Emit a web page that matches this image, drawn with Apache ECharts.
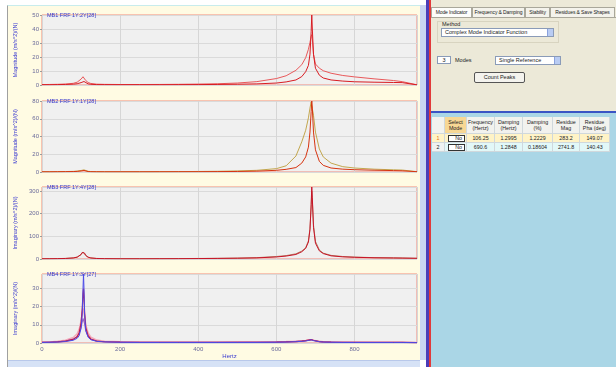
<!DOCTYPE html>
<html>
<head>
<meta charset="utf-8">
<script src="https://cdn.jsdelivr.net/npm/echarts@6/dist/echarts.min.js"></script>
<style>
  html, body { margin: 0; padding: 0; background: #ffffff; }
  body { width: 616px; height: 367px; position: relative; overflow: hidden;
         font-family: "Liberation Sans", Arial, sans-serif; }
  .abs { position: absolute; box-sizing: border-box; }
  #leftPanel { left: 7px; top: 5px; width: 413px; height: 362px; background: #fffbe3;
               border-left: 1px solid #a0a0a0; border-top: 1px solid #c8ecec; }
  #chart { left: 0; top: 0; width: 420px; height: 360px; }
  #vscroll { left: 420px; top: 5px; width: 6px; height: 355px; background: #c9d4f2; }
  #hscroll { left: 8px; top: 360px; width: 412px; height: 7px; background: #d6e2f6;
             border-top: 1px solid #b8c8ea; }
  #divA { left: 426px; top: 0; width: 3px; height: 367px; background: #4b3cb8; }
  #divB { left: 429px; top: 0; width: 2px; height: 367px; background: #e23a3a; }
  #rightTop { left: 431px; top: 0; width: 185px; height: 111px; background: #ece9d8; }
  #rightBot { left: 431px; top: 111px; width: 185px; height: 256px; background: #aad6e6;
              border-top: 2px solid #3a54c4; }
  .tab { top: 7px; height: 10px; font-size: 5px; line-height: 9px; color: #222; text-align: center;
         border: 1px solid #a9a79a; border-bottom: none; background: #f4f3ec; white-space: nowrap;
         letter-spacing: -0.1px; overflow: hidden; }
  .lbl { font-size: 5.5px; color: #222; white-space: nowrap; }
  .box { background: #fff; border: 1px solid #8a9bb8; font-size: 5.5px; line-height: 7px; color: #222;
         padding-left: 3px; white-space: nowrap; }
  .drop { background: #b9ccf3; border-left: 1px solid #8aa2dd; }
  .cell { font-size: 5.3px; color: #222; text-align: center; white-space: nowrap;
          border-right: 1px solid #d0d8dc; border-bottom: 1px solid #d0d8dc; }
</style>
</head>
<body>
<div id="leftPanel" class="abs"></div>
<div id="chart" class="abs"></div>
<div id="vscroll" class="abs"></div>
<div id="hscroll" class="abs"></div>
<div id="divA" class="abs"></div>
<div id="divB" class="abs"></div>
<div id="rightTop" class="abs"></div>
<div id="rightBot" class="abs"></div>
<div id="ui"></div>
<script>
// Frequency samples (Hz) shared by every trace
const hz = [0, 20, 40, 60, 80, 90, 95, 100, 103, 105, 106.25, 107.5, 109, 112, 118, 125, 140, 160,
  200, 250, 300, 350, 400, 450, 500, 550, 600, 625, 650, 665, 675, 682, 686, 689, 690.6, 692,
  695, 700, 710, 720, 740, 770, 800, 850, 900, 922, 925, 960];

// MB1 magnitude traces
const mb1Sharp = [0.2, 0.2, 0.3, 0.4, 0.6, 0.9, 1.2, 1.7, 2.2, 2.6, 2.8, 2.5, 2.0, 1.3, 0.8, 0.5, 0.3, 0.25,
  0.2, 0.2, 0.2, 0.25, 0.3, 0.4, 0.55, 0.8, 1.4, 2.2, 3.6, 6, 9.5, 14, 22, 38, 50, 40,
  22, 12, 7, 5, 3.6, 2.8, 2.3, 2.0, 1.8, 1.7, 1.6, 0.1];
const mb1Broad = [0.3, 0.4, 0.5, 0.7, 1.2, 2.0, 2.8, 4.2, 5.3, 5.9, 6.0, 5.6, 4.7, 3.2, 1.8, 1.1, 0.6, 0.45,
  0.35, 0.35, 0.4, 0.5, 0.65, 0.9, 1.4, 2.4, 4.6, 6.6, 10.5, 14.5, 19.5, 25.5, 30.5, 34.5, 36, 33,
  22, 15, 12, 10.2, 8.4, 6.8, 5.8, 4.4, 3.2, 2.4, 1.8, 0.15];

// MB2 magnitude traces
const mb2Sharp = [0.2, 0.2, 0.3, 0.4, 0.5, 0.7, 0.9, 1.2, 1.6, 1.9, 2.0, 1.8, 1.4, 0.9, 0.5, 0.35, 0.25, 0.2,
  0.2, 0.2, 0.25, 0.3, 0.35, 0.45, 0.6, 1.0, 1.9, 3, 5, 10, 17, 28, 45, 68, 80, 72,
  45, 25, 12, 7.5, 4.5, 3.2, 2.6, 2.0, 1.6, 1.4, 1.3, 0.3];
const mb2Broad = [0.3, 0.3, 0.4, 0.5, 0.7, 1.0, 1.3, 1.7, 2.2, 2.5, 2.6, 2.4, 1.9, 1.3, 0.8, 0.5, 0.35, 0.3,
  0.3, 0.3, 0.35, 0.45, 0.6, 0.8, 1.2, 1.9, 3.8, 7, 18, 34, 47, 61, 72, 79, 80, 78,
  64, 45, 26, 17, 10, 6, 4.5, 3.2, 2.5, 2.2, 2.0, 0.4];

// MB3 imaginary-part traces
const mb3Main = [1, 1.2, 1.6, 2.3, 4.5, 8, 12, 20, 29, 35, 37, 33, 26, 16, 8, 4.5, 2.2, 1.5,
  1, 1, 1.2, 1.5, 2, 2.6, 3.5, 5, 9, 13, 20, 32, 47, 75, 130, 240, 318, 270,
  140, 70, 36, 24, 14, 9.5, 7.5, 5.5, 4.5, 4, 3.8, 3];
const mb3Alt = [1.2, 1.4, 1.8, 2.6, 5, 8.5, 12.5, 19, 26, 31, 33, 30, 24, 15, 8, 4.8, 2.5, 1.7,
  1.2, 1.2, 1.4, 1.8, 2.4, 3, 4, 6, 11, 15, 23, 35, 50, 80, 135, 230, 300, 260,
  150, 78, 40, 26, 16, 11, 8.5, 6, 5, 4.5, 4.2, 3.2];

// MB4 imaginary-part traces
const mb4Blue = [0.3, 0.4, 0.5, 0.8, 1.5, 2.6, 4, 8, 16, 30, 38, 30, 16, 7, 3.2, 1.8, 0.9, 0.6,
  0.4, 0.3, 0.3, 0.3, 0.3, 0.3, 0.3, 0.3, 0.4, 0.5, 0.7, 0.9, 1.1, 1.4, 1.6, 1.8, 1.8, 1.6,
  1.3, 1, 0.7, 0.5, 0.4, 0.3, 0.3, 0.3, 0.3, 0.3, 0.3, 0.2];
const mb4Crimson = [0.3, 0.4, 0.6, 1, 2, 3.5, 5.5, 11, 19, 27, 30, 26, 17, 8.5, 4, 2.2, 1.1, 0.7,
  0.5, 0.4, 0.35, 0.35, 0.35, 0.35, 0.4, 0.4, 0.5, 0.6, 0.8, 1, 1.3, 1.6, 1.8, 1.9, 1.9, 1.8,
  1.5, 1.1, 0.8, 0.6, 0.5, 0.4, 0.35, 0.3, 0.3, 0.3, 0.3, 0.2];
const mb4Pink = [0.5, 0.6, 0.9, 1.5, 3, 5, 7.5, 12, 16, 19, 20, 18.5, 15, 10, 5.5, 3.2, 1.6, 1,
  0.7, 0.5, 0.45, 0.45, 0.45, 0.45, 0.5, 0.55, 0.65, 0.8, 1, 1.2, 1.4, 1.6, 1.7, 1.8, 1.8, 1.7,
  1.5, 1.2, 0.9, 0.7, 0.55, 0.45, 0.4, 0.35, 0.35, 0.35, 0.35, 0.25];
const mb4Purple = [0.4, 0.5, 0.7, 1.1, 2.2, 3.6, 5.2, 8.5, 11.5, 13.5, 14, 13, 10.5, 6.5, 3.5, 2, 1, 0.7,
  0.5, 0.4, 0.4, 0.4, 0.4, 0.4, 0.45, 0.5, 0.6, 0.7, 0.9, 1.1, 1.3, 1.5, 1.6, 1.7, 1.7, 1.6,
  1.4, 1.1, 0.8, 0.6, 0.5, 0.4, 0.35, 0.3, 0.3, 0.3, 0.3, 0.2];

// Panel titles, axis names and ranges
const plotTitles = ['MB1 FRF 1Y:2Y[28]', 'MB2 FRF 1Y:1Y[28]', 'MB3 FRF 1Y:4Y[28]', 'MB4 FRF 1Y:3Y[27]'];
const yNames = ['Magnitude (m/s^2)/(N)', 'Magnitude (m/s^2)/(N)', 'Imaginary (m/s^2)/(N)', 'Imaginary (m/s^2)/(N)'];
const yMax = [50, 80, 318, 38];
const yStep = [10, 20, 100, 10];
const xMax = 960;
const xStep = 200;

// Mode table
const tableHead = ['', 'Select\nMode', 'Frequency\n(Hertz)', 'Damping\n(Hertz)', 'Damping\n(%)', 'Residue\nMag', 'Residue\nPha (deg)'];
const tableRows = [
  ['1', 'No', '106.25', '1.2995', '1.2229', '283.2', '149.07'],
  ['2', 'No', '690.6', '1.2848', '0.18604', '2741.8', '140.43']
];

const gridTops = [15, 101, 187, 274];
const gridHeights = [70, 71, 72, 71];

const grids = [], xAxes = [], yAxes = [], titles = [], series = [];
for (let i = 0; i < 4; i++) {
  grids.push({ left: 42, top: gridTops[i], width: 375, height: gridHeights[i], show: true,
    backgroundColor: '#f0f0f0', borderColor: '#f08a7c', borderWidth: 1 });
  const last = i === 3;
  xAxes.push({ gridIndex: i, type: 'value', min: 0, max: xMax, interval: xStep,
    axisLine: { show: false }, axisTick: { show: false },
    axisLabel: { show: last, fontSize: 6, color: '#6a6a9a', margin: 3, showMaxLabel: false,
      fontFamily: 'Liberation Sans' },
    splitLine: { show: true, lineStyle: { color: '#d6d6d6', width: 1 } },
    name: last ? 'Hertz' : '', nameLocation: 'middle', nameGap: 10,
    nameTextStyle: { fontSize: 6, color: '#3a3ad0', fontFamily: 'Liberation Sans' } });
  yAxes.push({ gridIndex: i, type: 'value', min: 0, max: yMax[i], interval: yStep[i],
    axisLine: { show: false },
    axisTick: { show: true, length: 2, lineStyle: { color: '#9a9a9a' } },
    axisLabel: { fontSize: 6, color: '#6a6a9a', margin: 3, showMaxLabel: (i < 2),
      fontFamily: 'Liberation Sans' },
    splitLine: { show: true, lineStyle: { color: '#dadada', width: 1 } },
    name: yNames[i], nameLocation: 'middle', nameRotate: 90, nameGap: 24,
    nameTextStyle: { fontSize: 5.5, color: '#3a3ad0', fontFamily: 'Liberation Sans' } });
  titles.push({ text: plotTitles[i], left: 42, top: gridTops[i] - 8,
    textStyle: { fontSize: 5.5, fontWeight: 'normal', color: '#3434cc', fontFamily: 'Liberation Sans' } });
}

function trace(idx, vals, color, width) {
  series.push({ type: 'line', xAxisIndex: idx, yAxisIndex: idx, showSymbol: false, symbol: 'none',
    clip: true, animation: false, silent: true,
    lineStyle: { color: color, width: width || 1 },
    data: hz.map((f, k) => [f, vals[k]]) });
}

trace(0, mb1Broad, '#e8585a');
trace(0, mb1Sharp, '#d81c22');
trace(1, mb2Broad, '#c2a64e');
trace(1, mb2Sharp, '#d63410');
trace(2, mb3Alt, '#b58468');
trace(2, mb3Main, '#c81428');
trace(3, mb4Pink, '#f3a8b8', 1.5);
trace(3, mb4Purple, '#9a5cc0');
trace(3, mb4Crimson, '#c21a4a', 1.2);
trace(3, mb4Blue, '#4a4ae8');

const chart = echarts.init(document.getElementById('chart'), null, { renderer: 'canvas' });
chart.setOption({
  animation: false,
  title: titles,
  grid: grids,
  xAxis: xAxes,
  yAxis: yAxes,
  series: series
});

// Control panel and mode table
const ui = document.getElementById('ui');
function el(cls, css, text) {
  const d = document.createElement('div');
  d.className = 'abs ' + cls;
  d.style.cssText = css;
  if (text !== undefined) d.textContent = text;
  ui.appendChild(d);
  return d;
}
const tabs = [['Mode Indicator', 431, 41, '#fdfdfb'], ['Frequency & Damping', 472, 53, '#f4f3ec'],
  ['Stability', 525, 25, '#f4f3ec'], ['Residues & Save Shapes', 550, 65, '#f4f3ec']];
tabs.forEach(t => el('tab', `left:${t[1]}px;width:${t[2]}px;background:${t[3]};`, t[0]));
el('', 'left:431px;top:17px;width:185px;height:1px;background:#a9a79a;');
el('', 'left:437px;top:21px;width:122px;height:22px;border:1px solid #d8d4c0;');
el('lbl', 'left:442px;top:21px;', 'Method');
el('box', 'left:441px;top:28px;width:113px;height:9px;', 'Complex Mode Indicator Function');
el('drop', 'left:547px;top:29px;width:6px;height:7px;');
el('box', 'left:437px;top:56px;width:14px;height:8px;text-align:center;padding:0;', '3');
el('lbl', 'left:455px;top:57px;', 'Modes');
el('box', 'left:495px;top:56px;width:66px;height:9px;', 'Single Reference');
el('drop', 'left:554px;top:57px;width:6px;height:7px;');
el('box', 'left:474px;top:72px;width:51px;height:11px;text-align:center;padding:0;line-height:9px;' +
  'background:#f4f3ee;border:1px solid #555;border-radius:2px;', 'Count Peaks');

const colX = [432, 445, 467, 495, 523, 553, 580, 610];
tableHead.forEach((h, c) => {
  const bg = c === 1 ? '#f7d794' : '#f2f2ee';
  el('cell', `left:${colX[c]}px;top:117px;width:${colX[c + 1] - colX[c]}px;height:17px;` +
    `background:${bg};line-height:6px;padding-top:2px;white-space:pre;`, h);
});
tableRows.forEach((row, r) => {
  const top = 134 + r * 9;
  const bg = r === 0 ? '#fff3c6' : '#e2f8f8';
  row.forEach((v, c) => {
    let css = `left:${colX[c]}px;top:${top}px;width:${colX[c + 1] - colX[c]}px;height:9px;line-height:9px;background:${bg};`;
    if (c === 0) css += (r === 0 ? 'background:#fff3c6;color:#e07010;' : 'background:#eef2f2;');
    if (c === 1) {
      el('cell', css, '');
      el('box', `left:${colX[c] + 3}px;top:${top + 1}px;width:17px;height:7px;line-height:5px;` +
        `text-align:right;padding-right:2px;border:1px solid #333;font-size:5.3px;`, v);
    } else {
      el('cell', css, v);
    }
  });
});
</script>
</body>
</html>
